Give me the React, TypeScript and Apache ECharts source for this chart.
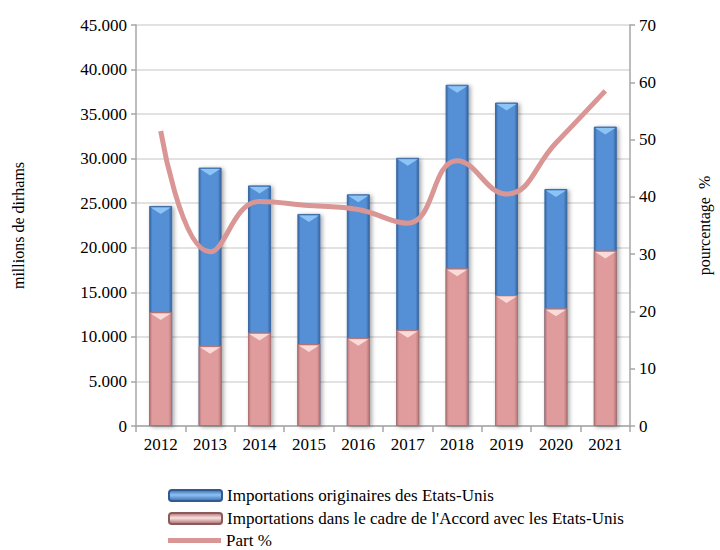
import React, { useEffect, useRef } from "react";
import * as echarts from "echarts";

const years = ["2012", "2013", "2014", "2015", "2016", "2017", "2018", "2019", "2020", "2021"];
const importsUS = [24700, 29000, 27000, 23800, 26000, 30100, 38300, 36300, 26600, 33600];
const importsAccord = [12800, 9000, 10500, 9200, 9900, 10800, 17700, 14700, 13200, 19700];
const partPct = [51.5, 30.4, 39.2, 38.5, 37.8, 35.4, 46.3, 40.5, 49.4, 58.5];

const SERIES_US = "Importations originaires des Etats-Unis";
const SERIES_ACC = "Importations dans le cadre de l'Accord avec les Etats-Unis";
const SERIES_PART = "Part %";

const FONT = "Liberation Serif";
const FS = 17;
const BAR_W = 23;

const fmtThousands = (v: number) => String(v).replace(/\B(?=(\d{3})+(?!\d))/g, ".");

const hGrad = (edge: string, mid: string) =>
  new echarts.graphic.LinearGradient(0, 0, 1, 0, [
    { offset: 0, color: edge },
    { offset: 0.12, color: mid },
    { offset: 0.85, color: mid },
    { offset: 1, color: edge },
  ]);

const legendItem = (name: string, top: number, extra: any = {}, itemHeight = 11) => ({
  left: 168,
  top,
  padding: 0,
  itemWidth: 53,
  itemHeight,
  textStyle: { fontFamily: FONT, fontSize: FS, color: "#000" },
  data: [{ name, ...extra }],
});

const bevel = (name: string, values: number[], fill: string) => ({
  name,
  type: "custom",
  silent: true,
  z: 3,
  data: values.map((v, i) => [i, v]),
  renderItem: (_params: any, api: any) => {
    const p = api.coord([api.value(0), api.value(1)]);
    const w = BAR_W - 3;
    return {
      type: "polygon",
      shape: {
        points: [
          [p[0] - w / 2, p[1] + 1.5],
          [p[0] + w / 2, p[1] + 1.5],
          [p[0], p[1] + 8],
        ],
      },
      style: { fill },
    };
  },
});

export default function App() {
  const ref = useRef<HTMLDivElement>(null);
  useEffect(() => {
    if (!ref.current) return;
    const chart = echarts.init(ref.current, null, { renderer: "svg" });
    chart.setOption({
      animation: false,
      textStyle: { fontFamily: FONT },
      grid: { left: 136, right: 73, top: 25, bottom: 124 },
      legend: [
        legendItem(SERIES_US, 487, {
          itemStyle: {
            color: new echarts.graphic.LinearGradient(0, 0, 0, 1, [
              { offset: 0, color: "#3a6cb0" },
              { offset: 0.45, color: "#8fc2f2" },
              { offset: 1, color: "#3a6cb0" },
            ]),
            borderColor: "#2f5a94",
          },
        }),
        legendItem(SERIES_ACC, 510, {
          itemStyle: {
            color: new echarts.graphic.LinearGradient(0, 0, 0, 1, [
              { offset: 0, color: "#b07070" },
              { offset: 0.45, color: "#fbe3e3" },
              { offset: 1, color: "#a86a6a" },
            ]),
            borderColor: "#8c5a5a",
          },
        }),
        legendItem(SERIES_PART, 532, { icon: "rect", itemStyle: { color: "#d99694" } }, 5),
      ],
      xAxis: {
        type: "category",
        data: years,
        axisLine: { lineStyle: { color: "#a6a6a6", width: 1.5 } },
        axisTick: { show: true, length: 6, lineStyle: { color: "#a6a6a6", width: 1.5 } },
        axisLabel: { color: "#000", fontSize: FS, fontFamily: FONT, margin: 10 },
      },
      yAxis: [
        {
          type: "value",
          min: 0,
          max: 45000,
          interval: 5000,
          name: "millions de dirhams",
          nameLocation: "middle",
          nameGap: 110,
          nameRotate: 90,
          nameTextStyle: { color: "#000", fontSize: FS - 1, fontFamily: FONT },
          axisLine: { show: true, lineStyle: { color: "#a6a6a6", width: 1.5 } },
          axisTick: { show: true, length: 5, lineStyle: { color: "#a6a6a6", width: 1.5 } },
          axisLabel: { color: "#000", fontSize: FS, fontFamily: FONT, margin: 9, formatter: fmtThousands },
          splitLine: { lineStyle: { color: "#d9d9d9", width: 1.5 } },
        },
        {
          type: "value",
          min: 0,
          max: 70,
          interval: 10,
          name: "pourcentage  %",
          nameLocation: "middle",
          nameGap: 66,
          nameRotate: 90,
          nameTextStyle: { color: "#000", fontSize: FS - 1, fontFamily: FONT },
          axisLine: { show: true, lineStyle: { color: "#a6a6a6", width: 1.5 } },
          axisTick: { show: true, length: 5, lineStyle: { color: "#a6a6a6", width: 1.5 } },
          axisLabel: { color: "#000", fontSize: FS, fontFamily: FONT, margin: 9 },
          splitLine: { show: false },
        },
      ],
      series: [
        {
          name: SERIES_US,
          type: "bar",
          data: importsUS,
          barWidth: BAR_W,
          barGap: "-100%",
          itemStyle: {
            color: hGrad("#35649f", "#5590d6"),
            borderColor: "#3d6aa3",
            borderWidth: 1,
            shadowColor: "rgba(0,0,0,0.35)",
            shadowBlur: 4,
            shadowOffsetX: 2,
            shadowOffsetY: 1,
          },
        },
        {
          name: SERIES_ACC,
          type: "bar",
          data: importsAccord,
          barWidth: BAR_W,
          itemStyle: {
            color: hGrad("#b97878", "#e09c9c"),
            borderColor: "#b07272",
            borderWidth: 1,
          },
        },
        bevel("bevelUS", importsUS, "#8cc4f6"),
        bevel("bevelAcc", importsAccord, "#fbdada"),
        {
          name: SERIES_PART,
          type: "line",
          yAxisIndex: 1,
          z: 5,
          data: partPct,
          smooth: 0.45,
          symbol: "none",
          lineStyle: { color: "#d99694", width: 5 },
          itemStyle: { color: "#d99694" },
        },
      ],
    });
    return () => chart.dispose();
  }, []);
  return <div ref={ref} style={{ position: "absolute", left: 0, top: 0, width: 720, height: 550 }} />;
}
